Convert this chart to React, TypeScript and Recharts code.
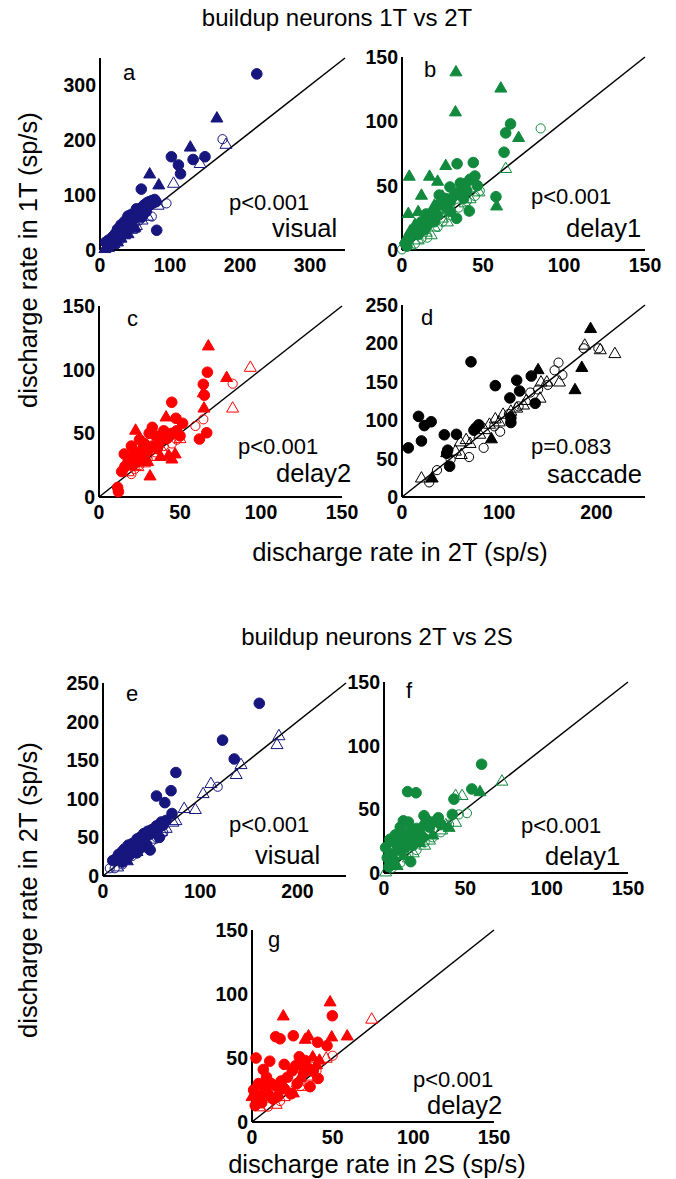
import React from 'react';
import { ScatterChart, Scatter, XAxis, YAxis, ReferenceLine } from 'recharts';

type Pt = [number, number];

const NAVY = '#16167e';
const GREEN = '#128a3e';
const RED = '#ff0000';
const BLACK = '#000000';

const TICKS_150 = [0, 50, 100, 150];
const TICKS_300 = [0, 100, 200, 300];
const TICKS_250X = [0, 100, 200];
const TICKS_250Y = [0, 50, 100, 150, 200, 250];

// panel a: visual, 1T vs 2T
const aFilledCircle: Pt[] = [
  [224, 321], [102, 170], [150, 170], [133, 165], [112, 155], [115, 139], [59, 111], [81, 36],
  [8, 14], [12, 18], [15, 16], [18, 24], [20, 20], [22, 30], [25, 28], [26, 36], [28, 32], [30, 40],
  [32, 36], [34, 45], [35, 40], [37, 50], [38, 44], [40, 55], [42, 48], [44, 58], [45, 52], [47, 62],
  [48, 56], [50, 66], [52, 60], [54, 70], [55, 64], [57, 74], [58, 68], [60, 78], [62, 72], [63, 82],
  [65, 76], [67, 86], [68, 80], [70, 88], [72, 84], [74, 90], [76, 86], [78, 92], [80, 88], [45, 65],
  [52, 75], [40, 62], [35, 52], [30, 46], [25, 38], [60, 60], [66, 70],
];
const aOpenCircle: Pt[] = [
  [175, 202], [95, 85], [74, 61], [62, 67], [50, 50], [40, 42], [30, 27], [20, 18], [12, 10], [56, 54], [45, 40],
];
const aFilledTriangle: Pt[] = [
  [167, 241], [129, 188], [71, 139], [84, 119], [30, 22], [18, 10], [25, 15], [40, 30], [12, 5], [50, 42],
  [7, 3], [20, 12], [35, 28], [48, 40],
];
const aOpenTriangle: Pt[] = [
  [180, 193], [143, 158], [105, 122], [83, 82], [60, 55], [45, 38], [35, 30], [25, 20], [68, 62], [52, 45],
];

// panel b: delay1, 1T vs 2T
const bFilledCircle: Pt[] = [
  [67, 98], [64, 91], [63, 76], [34, 67], [44, 68], [45, 57.5], [46.5, 50], [29.6, 49], [39.5, 51.8],
  [58, 41.4], [41.5, 30.3], [33.7, 24.6], [23, 42.7], [35, 45], [38, 40], [30, 38], [25, 35], [20, 30],
  [18, 26], [15, 28], [12, 22], [10, 18], [8, 15], [6, 12], [4, 8], [2, 5], [28, 32], [22, 27], [16, 20],
  [14, 16], [27, 40], [32, 42], [40, 46], [36, 52], [42, 55], [30, 30], [20, 22], [10, 12], [3, 3], [24, 37],
];
const bOpenCircle: Pt[] = [
  [85.6, 94.5], [15.6, 9.6], [0, 0.5], [48, 46], [40, 38], [30, 27], [22, 18], [12, 9], [8, 5], [35, 33],
  [25, 22], [45, 42],
];
const bFilledTriangle: Pt[] = [
  [33.3, 138.6], [61, 126], [33, 107.5], [72, 87.6], [27, 65.8], [4.5, 57.5], [17, 57.5], [22, 53.6],
  [12, 42.7], [58.4, 34.4], [3.9, 28.5], [10, 30], [15, 25], [20, 35], [8, 20], [5, 15], [25, 42], [2, 8],
];
const bOpenTriangle: Pt[] = [
  [64, 63.5], [47.5, 45.3], [35.6, 43], [38.9, 36.8], [30, 30], [25, 25], [20, 18], [15, 14], [10, 8],
  [5, 4], [42, 40], [28, 22], [18, 12],
];

// panel c: delay2, 1T vs 2T
const cFilledCircle: Pt[] = [
  [66.9, 98], [64.4, 88.5], [65, 80], [44.9, 74.4], [47.5, 61.8], [51.6, 57.9], [66.5, 50.5], [62, 45.5],
  [32.9, 54.7], [31, 50], [12, 4.2], [11.5, 7.5], [15.6, 33.8], [20, 40], [22, 35], [25, 45], [28, 42],
  [35, 48], [38, 44], [40, 52], [42, 46], [27, 38], [18, 28], [16, 24], [20, 30], [24, 28], [30, 36],
  [33, 40], [36, 38], [45, 50], [48, 52], [14, 20], [50, 48], [26, 32],
];
const cOpenCircle: Pt[] = [
  [82.5, 89], [64.4, 61], [59.5, 55.8], [50, 48], [45, 42], [40, 40], [35, 35], [30, 30], [25, 25],
  [20, 18], [22, 22], [48, 45],
];
const cFilledTriangle: Pt[] = [
  [67.5, 118.8], [78.8, 94], [64.4, 82], [64.8, 70], [41.4, 63], [22.6, 52.6], [31.5, 16.7], [43, 33],
  [45, 30], [47, 34], [30, 28], [20, 25], [38, 32],
];
const cOpenTriangle: Pt[] = [
  [93.4, 102], [82.5, 70], [40, 35], [35, 32], [28, 27], [24, 24], [18, 20], [50, 46],
];

// panel d: saccade, 1T vs 2T
const dFilledCircle: Pt[] = [
  [71, 176], [133, 157.5], [118, 152], [96, 145], [121, 138], [111, 129], [137, 122], [17, 105], [23, 93],
  [30, 98], [20, 73], [6.5, 64], [43.5, 81], [56, 81.6], [47, 61], [46, 57], [49, 40], [79, 94], [74, 87],
  [112, 97], [112, 103], [76, 90],
];
const dOpenCircle: Pt[] = [
  [187, 193.6], [202, 193.6], [161, 175], [157, 165], [165, 159], [150, 146], [132, 136], [101, 85],
  [69, 52], [84, 64], [28, 19], [36, 35], [50, 49], [120, 118], [110, 108], [95, 92], [140, 140],
];
const dFilledTriangle: Pt[] = [
  [194, 219.6], [185, 169], [178, 140], [140, 166], [31, 25], [92, 76], [46, 58],
];
const dOpenTriangle: Pt[] = [
  [188, 198], [204, 192], [219, 187], [162, 150], [143, 150], [149, 150], [142, 129], [20, 25],
  [61, 55.6], [60, 72], [66, 75], [90, 95], [96, 102], [104, 108], [118, 116], [125, 120], [128, 126],
  [70, 70], [80, 82], [85, 88], [112, 112], [100, 98], [55, 60],
];

// panel e: visual, 2T vs 2S
const eFilledCircle: Pt[] = [
  [160.8, 223.7], [123, 176], [135, 151.6], [75, 134], [70, 110.5], [55, 103.6], [63.6, 95], [71, 81],
  [48.5, 33.7], [10, 20], [13, 22], [16, 28], [18, 24], [20, 32], [22, 35], [25, 30], [26, 40], [28, 36],
  [30, 42], [32, 38], [35, 48], [36, 44], [38, 50], [40, 46], [42, 55], [44, 52], [46, 58], [48, 54],
  [50, 60], [52, 56], [55, 65], [57, 62], [60, 70], [62, 66], [65, 72], [45, 40], [40, 38], [35, 30],
  [20, 18], [28, 28], [58, 50],
];
const eOpenCircle: Pt[] = [
  [7, 10], [62, 56], [118, 115.6], [50, 45], [40, 36], [30, 26], [20, 15], [12, 10], [55, 50], [45, 42], [25, 22],
];
const eFilledTriangle: Pt[] = [[25, 20], [45, 38]];
const eOpenTriangle: Pt[] = [
  [181, 182], [179, 170.5], [142, 144.6], [137, 131.7], [111, 120], [103, 107], [83.5, 87.7], [95, 86.4],
  [75, 72], [72, 70], [65, 62], [60, 58], [15, 12], [35, 32], [50, 48],
];

// panel f: delay1, 2T vs 2S
const fFilledCircle: Pt[] = [
  [60, 85.4], [14.5, 63.9], [19.7, 63], [54, 66], [43, 58], [42, 46], [24.6, 45], [33.4, 43.4], [11.9, 41],
  [16.6, 34], [3.7, 26.5], [1, 20], [16.4, 8.9], [5, 15], [8, 22], [10, 28], [12, 30], [14, 25], [18, 30],
  [20, 35], [22, 32], [25, 38], [28, 36], [30, 40], [6, 10], [3, 5], [9, 18], [13, 20], [18, 22], [24, 28],
  [2, 12], [7, 30], [10, 36], [15, 40], [20, 26], [26, 42], [35, 38], [4, 25],
];
const fOpenCircle: Pt[] = [
  [51, 47], [46, 46], [40, 38], [30, 28], [20, 18], [10, 8], [5, 4], [25, 24], [15, 14], [35, 32],
];
const fFilledTriangle: Pt[] = [[59, 64], [30, 30], [22, 24], [12, 14], [40, 36], [8, 6]];
const fOpenTriangle: Pt[] = [
  [72.5, 72.3], [44, 61], [48, 61], [35.5, 34], [44, 40], [25, 22], [15, 12], [18, 16], [28, 26], [1, 1], [38, 38],
];

// panel g: delay2, 2T vs 2S
const gFilledCircle: Pt[] = [
  [49.8, 83], [14.7, 66.6], [17.4, 65], [25.6, 67.4], [40.7, 62.3], [46.5, 59.6], [2.5, 50], [11, 47.5],
  [7, 41], [29.3, 51], [41, 34], [36, 27.6], [1, 25], [2, 12.9], [5, 20], [8, 25], [10, 22], [12, 30],
  [15, 28], [18, 32], [20, 26], [22, 35], [25, 40], [27, 44], [30, 45], [32, 38], [35, 42], [28, 30],
  [16, 20], [6, 15], [24, 22], [20, 45], [38, 40], [33, 48], [13, 18], [4, 30], [9, 35],
];
const gOpenCircle: Pt[] = [[50, 51.8], [17.4, 16.4], [30, 28], [25, 22], [35, 33], [10, 12], [40, 40]];
const gFilledTriangle: Pt[] = [
  [48.4, 94], [19.4, 83], [35, 67.4], [33, 64.8], [49.4, 66.6], [59, 67.4], [37.6, 51], [41.8, 48.5],
  [7.8, 32], [25.6, 22.9], [0, 20], [30, 35], [20, 28], [12, 20], [40, 45],
];
const gOpenTriangle: Pt[] = [
  [74.2, 80.5], [38, 50], [46, 50], [30, 28], [25, 24], [35, 36], [20, 20], [15, 14], [5, 12],
];

const toObj = (pts: Pt[]) => pts.map(([x, y]) => ({ x, y }));

const circle = (color: string, filled: boolean) => (props: any) => (
  <circle
    cx={props.cx}
    cy={props.cy}
    r={filled ? 5.3 : 4.6}
    fill={filled ? color : 'none'}
    stroke={color}
    strokeWidth={1}
  />
);

const triangle = (color: string, filled: boolean) => (props: any) => {
  const { cx, cy } = props;
  const pts = `${cx},${cy - 6.2} ${cx - 6},${cy + 4.2} ${cx + 6},${cy + 4.2}`;
  return <polygon points={pts} fill={filled ? color : 'none'} stroke={color} strokeWidth={1} />;
};

const Y_W = 50;
const X_H = 30;
const PAD = 12;
const PAD_R = 24;
const tickStyle = { fill: '#000', fontSize: 19.5, fontWeight: 700, fontFamily: '"Liberation Sans", Arial, sans-serif' };

interface PanelProps {
  left: number;
  top: number;
  width: number;
  height: number;
  max: number;
  xTicks: number[];
  yTicks: number[];
  color: string;
  fc: Pt[];
  oc: Pt[];
  ft: Pt[];
  ot: Pt[];
}

const Panel: React.FC<PanelProps> = p => (
  <div style={{ position: 'absolute', left: p.left - Y_W, top: p.top - PAD }}>
    <ScatterChart
      width={p.width + Y_W + PAD_R}
      height={p.height + PAD + X_H}
      margin={{ top: PAD, right: PAD_R, bottom: 0, left: 0 }}
    >
      <XAxis
        type="number"
        dataKey="x"
        domain={[0, p.max]}
        ticks={p.xTicks}
        height={X_H}
        tickLine={false}
        tickSize={6}
        tickMargin={2}
        axisLine={{ stroke: '#000', strokeWidth: 2 }}
        tick={tickStyle}
        interval={0}
      />
      <YAxis
        type="number"
        dataKey="y"
        domain={[0, p.max]}
        ticks={p.yTicks}
        width={Y_W}
        tickLine={false}
        tickSize={2}
        tickMargin={2}
        axisLine={{ stroke: '#000', strokeWidth: 2 }}
        tick={tickStyle}
        interval={0}
      />
      <ReferenceLine segment={[{ x: 0, y: 0 }, { x: p.max, y: p.max }]} stroke="#000" strokeWidth={1.5} />
      <Scatter data={toObj(p.ot)} shape={triangle(p.color, false)} isAnimationActive={false} />
      <Scatter data={toObj(p.oc)} shape={circle(p.color, false)} isAnimationActive={false} />
      <Scatter data={toObj(p.ft)} shape={triangle(p.color, true)} isAnimationActive={false} />
      <Scatter data={toObj(p.fc)} shape={circle(p.color, true)} isAnimationActive={false} />
    </ScatterChart>
  </div>
);

const FONT = '"Liberation Sans", Arial, sans-serif';

const Label = ({ x, y, size, children, anchor = 'start' }: any) => (
  <text x={x} y={y} fontSize={size} fontFamily={FONT} textAnchor={anchor} fill="#000">
    {children}
  </text>
);

export default function App() {
  return (
    <div style={{ position: 'absolute', left: 0, top: 0, width: 676, height: 1179, background: '#fff' }}>
      <Panel left={100} top={58} width={245} height={192} max={350} xTicks={TICKS_300} yTicks={TICKS_300}
        color={NAVY} fc={aFilledCircle} oc={aOpenCircle} ft={aFilledTriangle} ot={aOpenTriangle} />
      <Panel left={402} top={57} width={243} height={193} max={150} xTicks={TICKS_150} yTicks={TICKS_150}
        color={GREEN} fc={bFilledCircle} oc={bOpenCircle} ft={bFilledTriangle} ot={bOpenTriangle} />
      <Panel left={99} top={306} width={243} height={191} max={150} xTicks={TICKS_150} yTicks={TICKS_150}
        color={RED} fc={cFilledCircle} oc={cOpenCircle} ft={cFilledTriangle} ot={cOpenTriangle} />
      <Panel left={402} top={305} width={243} height={192} max={250} xTicks={TICKS_250X} yTicks={TICKS_250Y}
        color={BLACK} fc={dFilledCircle} oc={dOpenCircle} ft={dFilledTriangle} ot={dOpenTriangle} />
      <Panel left={103} top={683} width={243} height={193} max={250} xTicks={TICKS_250X} yTicks={TICKS_250Y}
        color={NAVY} fc={eFilledCircle} oc={eOpenCircle} ft={eFilledTriangle} ot={eOpenTriangle} />
      <Panel left={384} top={682} width={244} height={191} max={150} xTicks={TICKS_150} yTicks={TICKS_150}
        color={GREEN} fc={fFilledCircle} oc={fOpenCircle} ft={fFilledTriangle} ot={fOpenTriangle} />
      <Panel left={252} top={930} width={242} height={192} max={150} xTicks={TICKS_150} yTicks={TICKS_150}
        color={RED} fc={gFilledCircle} oc={gOpenCircle} ft={gFilledTriangle} ot={gOpenTriangle} />

      <svg width={676} height={1179} style={{ position: 'absolute', left: 0, top: 0, pointerEvents: 'none' }}>
        <Label x={337} y={26} size={24} anchor="middle">buildup neurons 1T vs 2T</Label>
        <Label x={377} y={645} size={24} anchor="middle">buildup neurons 2T vs 2S</Label>
        <Label x={400} y={561} size={25.5} anchor="middle">discharge rate in 2T (sp/s)</Label>
        <Label x={377} y={1173} size={25.5} anchor="middle">discharge rate in 2S (sp/s)</Label>
        <g transform="translate(37,260) rotate(-90)">
          <Label x={0} y={0} size={25.5} anchor="middle">discharge rate in 1T (sp/s)</Label>
        </g>
        <g transform="translate(37,890) rotate(-90)">
          <Label x={0} y={0} size={25.5} anchor="middle">discharge rate in 2T (sp/s)</Label>
        </g>

        <Label x={123} y={80} size={22}>a</Label>
        <Label x={229} y={210} size={22}>p&lt;0.001</Label>
        <Label x={272} y={237} size={25.5}>visual</Label>

        <Label x={424} y={77} size={22}>b</Label>
        <Label x={531} y={204} size={22}>p&lt;0.001</Label>
        <Label x={566} y={237} size={25.5}>delay1</Label>

        <Label x={127} y={326} size={22}>c</Label>
        <Label x={238} y={454} size={22}>p&lt;0.001</Label>
        <Label x={276} y={482} size={25.5}>delay2</Label>

        <Label x={421} y={325} size={22}>d</Label>
        <Label x={531} y={454} size={22}>p=0.083</Label>
        <Label x={547} y={483} size={25.5}>saccade</Label>

        <Label x={126} y={701} size={22}>e</Label>
        <Label x={229} y={832} size={22}>p&lt;0.001</Label>
        <Label x={255} y={864} size={25.5}>visual</Label>

        <Label x={406} y={698} size={22}>f</Label>
        <Label x={521} y={833} size={22}>p&lt;0.001</Label>
        <Label x={545} y={865} size={25.5}>delay1</Label>

        <Label x={268} y={947} size={22}>g</Label>
        <Label x={413} y={1087} size={22}>p&lt;0.001</Label>
        <Label x={427} y={1114} size={25.5}>delay2</Label>
      </svg>
    </div>
  );
}
